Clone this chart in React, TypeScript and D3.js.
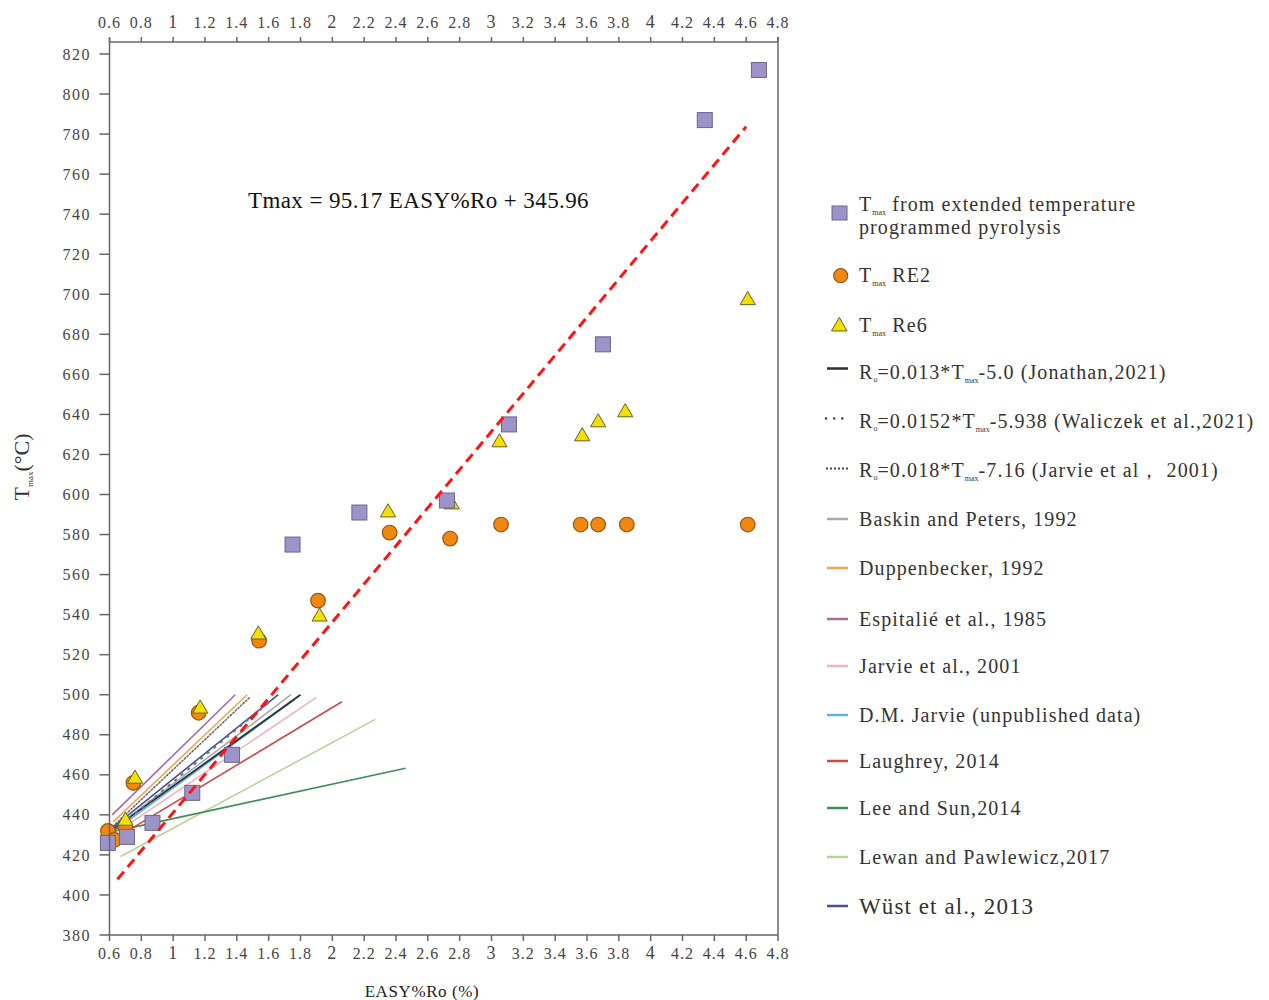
import React from 'react';
import * as d3 from 'd3';

// ---- axis ticks ----
const xTicks = [0.6, 0.8, 1, 1.2, 1.4, 1.6, 1.8, 2, 2.2, 2.4, 2.6, 2.8, 3, 3.2, 3.4, 3.6, 3.8, 4, 4.2, 4.4, 4.6, 4.8];
const yTicks = [380, 400, 420, 440, 460, 480, 500, 520, 540, 560, 580, 600, 620, 640, 660, 680, 700, 720, 740, 760, 780, 800, 820];

// ---- measured Tmax (°C) against EASY%Ro ----
const etppRo = [0.59, 0.71, 0.87, 1.12, 1.37, 1.75, 2.17, 2.72, 3.11, 3.7, 4.34, 4.68];
const etppTmax = [426, 429, 436, 451, 470, 575, 591, 597, 635, 675, 787, 812];

const re2Ro = [0.59, 0.63, 0.7, 0.75, 1.16, 1.54, 1.91, 2.36, 2.74, 3.06, 3.56, 3.67, 3.85, 4.61];
const re2Tmax = [432, 427.5, 434, 456, 491, 527, 547, 581, 578, 585, 585, 585, 585, 585];

const re6Ro = [0.7, 0.76, 1.17, 1.535, 1.92, 2.35, 2.75, 3.05, 3.57, 3.67, 3.84, 4.61];
const re6Tmax = [437, 458, 493, 530, 539, 591, 595, 626, 629, 636, 641, 697];

// ---- regression: Tmax = 95.17 EASY%Ro + 345.96 ----
const fitSlope = 95.17;
const fitIntercept = 345.96;
const fitRoRange = [0.65, 4.6];

// ---- published Ro–Tmax conversions, [Ro, Tmax] end points ----
const lewan2017 = [[0.67, 419.2], [2.27, 487.7]];
const leeSun2014 = [[0.617, 431.5], [2.46, 463.3]];
const laughrey2014 = [[0.62, 427.5], [2.06, 496.5]];
const jarvie2001 = [[0.63, 430.5], [1.9, 498.7]];
const dmJarvie = [[0.63, 432], [1.76, 497.5]];
const baskin1992 = [[0.625, 433], [1.74, 500]];
const wust2013 = [[0.625, 434], [1.66, 500]];
const jonathan2021 = [[0.625, 433], [1.8, 500]];
const duppenbecker1992 = [[0.625, 436.6], [1.464, 500]];
const espitalie1985 = [[0.617, 440], [1.39, 500]];
const jarvieEq2001 = [[0.623, 434.4], [1.484, 498.9]];
const waliczek2021 = [[0.6, 430.1], [1.66, 500]];

const W = 1269;
const H = 1000;
const FONT = '"Liberation Serif", "Times New Roman", serif';

const x = d3.scaleLinear().domain([0.6, 4.8]).range([109.5, 778]);
const y = d3.scaleLinear().domain([380, 820]).range([935, 54]);
const plotTop = y(826);

const line = d3.line<number[]>().x((d) => x(d[0])).y((d) => y(d[1]));

const refLines = [
  { pts: lewan2017, color: '#b5d49a', width: 1.6, dash: undefined },
  { pts: leeSun2014, color: '#3f8f57', width: 1.6, dash: undefined },
  { pts: laughrey2014, color: '#cc4a4a', width: 1.6, dash: undefined },
  { pts: jarvie2001, color: '#f2b3bd', width: 1.6, dash: undefined },
  { pts: dmJarvie, color: '#5cb6e4', width: 1.8, dash: undefined },
  { pts: baskin1992, color: '#a9a9a9', width: 1.6, dash: undefined },
  { pts: wust2013, color: '#46508f', width: 1.6, dash: undefined },
  { pts: jonathan2021, color: '#2b2f3a', width: 1.8, dash: undefined },
  { pts: duppenbecker1992, color: '#f0a55a', width: 1.6, dash: undefined },
  { pts: espitalie1985, color: '#a9689f', width: 1.6, dash: undefined },
  { pts: jarvieEq2001, color: '#666666', width: 1.5, dash: '1.5,2' },
  { pts: waliczek2021, color: '#6c7390', width: 2, dash: '1.5,7' },
];

const fitPts = fitRoRange.map((r) => [r, fitSlope * r + fitIntercept]);

const sq = 15;
const triPath = d3.symbol().type(d3.symbolTriangle).size(100)() as string;
const triLegend = d3.symbol().type(d3.symbolTriangle).size(105)() as string;

const SQ_FILL = '#9d93c8';
const SQ_STROKE = '#6c6688';
const CI_FILL = '#f0870f';
const CI_STROKE = '#995519';
const TR_FILL = '#f4e000';
const TR_STROKE = '#66602a';

const legendLines = [
  { y: 519, color: '#a9a9a9', label: 'Baskin and Peters, 1992' },
  { y: 568, color: '#f0a55a', label: 'Duppenbecker, 1992' },
  { y: 619, color: '#a9689f', label: 'Espitalié et al., 1985' },
  { y: 666, color: '#f2b3bd', label: ' Jarvie et al., 2001' },
  { y: 715, color: '#5cb6e4', label: 'D.M. Jarvie (unpublished data)' },
  { y: 761, color: '#cc4a4a', label: 'Laughrey, 2014' },
  { y: 808, color: '#3f8f57', label: 'Lee and Sun,2014' },
  { y: 857, color: '#b5d49a', label: 'Lewan and Pawlewicz,2017' },
];

function Sub({ children, size = 8, dy = 4 }: { children: string; size?: number; dy?: number }) {
  return (
    <tspan fontSize={size} dy={dy} letterSpacing={0}>
      {children}
    </tspan>
  );
}

export default function App() {
  const lx = 859;
  const legFs = 20;
  return (
    <svg
      width={W}
      height={H}
      style={{ position: 'absolute', left: 0, top: 0, display: 'block', background: '#fff' }}
      fontFamily={FONT}
    >
      {/* reference conversion lines */}
      {refLines.map((l, i) => (
        <path
          key={i}
          d={line(l.pts) as string}
          fill="none"
          stroke={l.color}
          strokeWidth={l.width}
          strokeDasharray={l.dash}
          strokeLinecap={l.dash ? 'round' : 'butt'}
        />
      ))}

      {/* RE2 circles */}
      {re2Ro.map((r, i) => (
        <circle key={'c' + i} cx={x(r)} cy={y(re2Tmax[i])} r={7.3} fill={CI_FILL} stroke={CI_STROKE} strokeWidth={1.2} />
      ))}
      {/* Re6 triangles */}
      {re6Ro.map((r, i) => (
        <path
          key={'t' + i}
          d={triPath}
          transform={`translate(${x(r)},${y(re6Tmax[i])})`}
          fill={TR_FILL}
          stroke={TR_STROKE}
          strokeWidth={1}
        />
      ))}
      {/* extended pyrolysis squares */}
      {etppRo.map((r, i) => (
        <rect
          key={'s' + i}
          x={x(r) - sq / 2}
          y={y(etppTmax[i]) - sq / 2}
          width={sq}
          height={sq}
          fill={SQ_FILL}
          stroke={SQ_STROKE}
          strokeWidth={1}
        />
      ))}

      {/* regression line */}
      <path
        d={line(fitPts) as string}
        fill="none"
        stroke="#ff1414"
        strokeWidth={3}
        strokeDasharray="10,6"
      />

      {/* frame and axes */}
      <g stroke="#666" strokeWidth={1.5} fill="none">
        <line x1={x(0.6)} x2={x(0.6)} y1={plotTop - 4} y2={y(380)} />
        <line x1={x(0.6)} x2={x(4.8)} y1={y(380)} y2={y(380)} />
        <line x1={x(0.6)} x2={x(4.8)} y1={plotTop} y2={plotTop} />
        <line x1={x(4.8)} x2={x(4.8)} y1={plotTop - 5} y2={y(380)} />
        {xTicks.map((t) => (
          <g key={'xt' + t}>
            <line x1={x(t)} x2={x(t)} y1={plotTop} y2={plotTop - 5} />
            <line x1={x(t)} x2={x(t)} y1={y(380)} y2={y(380) + 6} />
          </g>
        ))}
        {yTicks.map((t) => (
          <line key={'yt' + t} x1={x(0.6) - 10} x2={x(0.6)} y1={y(t)} y2={y(t)} />
        ))}
      </g>

      {/* tick labels */}
      <g fill="#444" textAnchor="middle">
        {xTicks.map((t) => {
          const int = Number.isInteger(t);
          return (
            <g key={'xl' + t} fontSize={int ? 18 : 16} letterSpacing={1}>
              <text x={x(t)} y={28}>{String(t)}</text>
              <text x={x(t)} y={959}>{String(t)}</text>
            </g>
          );
        })}
      </g>
      <g fill="#444" textAnchor="end" fontSize={16} letterSpacing={1.5}>
        {yTicks.map((t) => (
          <text key={'yl' + t} x={91} y={y(t)} dy="0.35em">
            {t}
          </text>
        ))}
      </g>

      {/* axis titles */}
      <text x={422} y={997} textAnchor="middle" fontSize={17} letterSpacing={0.6} fill="#222">
        EASY%Ro (%)
      </text>
      <text transform="translate(29,467) rotate(-90)" textAnchor="middle" fontSize={22} fill="#333">
        T<Sub size={9} dy={4}>max</Sub>
        <tspan dy={-4}>(°C)</tspan>
      </text>

      {/* equation */}
      <text x={248} y={208} fontSize={23} letterSpacing={0.4} fill="#111">
        Tmax = 95.17 EASY%Ro + 345.96
      </text>

      {/* legend */}
      <g fontSize={legFs} fill="#333" letterSpacing={1.1}>
        <rect x={832} y={206} width={15} height={14} fill={SQ_FILL} stroke={SQ_STROKE} strokeWidth={1} />
        <text x={lx} y={211}>
          T<Sub>max</Sub>
          <tspan dy={-4}> from extended  temperature</tspan>
        </text>
        <text x={lx} y={234}>programmed pyrolysis</text>

        <circle cx={840.7} cy={275.7} r={7} fill={CI_FILL} stroke={CI_STROKE} strokeWidth={1.2} />
        <text x={lx} y={282}>
          T<Sub>max</Sub>
          <tspan dy={-4}> RE2</tspan>
        </text>

        <path d={triLegend} transform="translate(839.3,326.5)" fill={TR_FILL} stroke={TR_STROKE} strokeWidth={1} />
        <text x={lx} y={332}>
          T<Sub>max</Sub>
          <tspan dy={-4}> Re6</tspan>
        </text>

        <line x1={827} x2={848} y1={368.5} y2={368.5} stroke="#2b2f3a" strokeWidth={2.5} />
        <text x={lx} y={379}>
          R<Sub size={8} dy={3}>o</Sub>
          <tspan dy={-3}>=0.013*T</tspan>
          <Sub>max</Sub>
          <tspan dy={-4}>-5.0 (Jonathan,2021)</tspan>
        </text>

        <line x1={826} x2={849} y1={418.5} y2={418.5} stroke="#444" strokeWidth={2.5} strokeDasharray="0.1,8" strokeLinecap="round" />
        <text x={lx} y={428}>
          R<Sub size={8} dy={3}>o</Sub>
          <tspan dy={-3}>=0.0152*T</tspan>
          <Sub>max</Sub>
          <tspan dy={-4}>-5.938 (Waliczek et al.,2021)</tspan>
        </text>

        <line x1={826} x2={849} y1={468.5} y2={468.5} stroke="#444" strokeWidth={2} strokeDasharray="2,2" />
        <text x={lx} y={477}>
          R<Sub size={8} dy={3}>o</Sub>
          <tspan dy={-3}>=0.018*T</tspan>
          <Sub>max</Sub>
          <tspan dy={-4}>-7.16 (Jarvie et al，  2001)</tspan>
        </text>

        {legendLines.map((l) => (
          <g key={l.label}>
            <line x1={827} x2={848} y1={l.y} y2={l.y} stroke={l.color} strokeWidth={2.5} />
            <text x={lx} y={l.y} dy="0.35em">
              {l.label}
            </text>
          </g>
        ))}

        <line x1={827} x2={848} y1={906} y2={906} stroke="#46508f" strokeWidth={2.5} />
        <text x={lx} y={906} dy="0.35em" fontSize={23}>
          Wüst et al., 2013
        </text>
      </g>
    </svg>
  );
}
